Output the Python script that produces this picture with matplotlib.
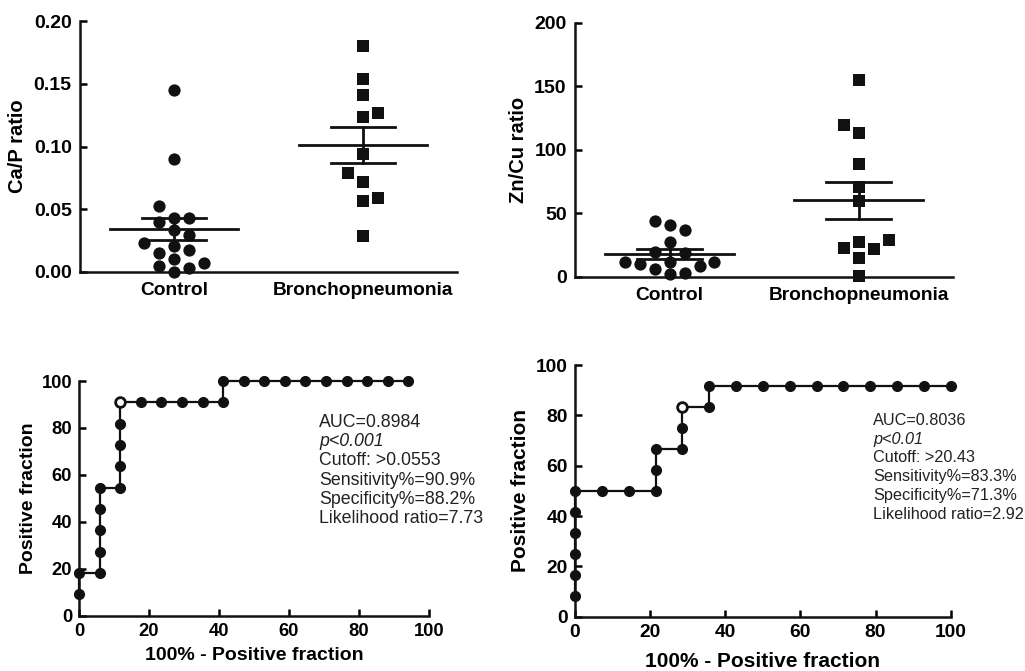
import matplotlib
matplotlib.use("Agg")
import matplotlib.pyplot as plt
import numpy as np

plt.rcParams['font.family'] = ['Liberation Sans', 'DejaVu Sans']

# scatter data
groups = ['Control', 'Bronchopneumonia']
cap_control = [0.145, 0.0899, 0.0527, 0.0434, 0.0434, 0.040, 0.0338, 0.0293, 0.0234,
               0.0205, 0.0173, 0.0152, 0.0106, 0.0074, 0.0048, 0.0035, 0.0]
cap_broncho = [0.180, 0.1535, 0.141, 0.1269, 0.1237, 0.0939, 0.0785, 0.0718, 0.059,
               0.0564, 0.0287]
zncu_control = [44.3, 40.9, 37.0, 27.8, 19.9, 18.9, 12.0, 12.0, 12.0, 10.2, 8.9, 6.3,
                3.1, 2.4]
zncu_broncho = [155.3, 119.7, 113.2, 88.7, 71.0, 59.5, 29.0, 27.8, 22.6, 21.8, 14.7, 0.5]

# ROC curves (percent)
roc1_fpr = [0, 0, 5.88, 5.88, 5.88, 5.88, 5.88, 11.76, 11.76, 11.76, 11.76, 11.76,
            17.65, 23.53, 29.41, 35.29, 41.18, 41.18, 47.06, 52.94, 58.82, 64.71,
            70.59, 76.47, 82.35, 88.24, 94.12]
roc1_tpr = [9.09, 18.18, 18.18, 27.27, 36.36, 45.45, 54.55, 54.55, 63.64, 72.73, 81.82,
            90.91, 90.91, 90.91, 90.91, 90.91, 90.91, 100, 100, 100, 100, 100, 100,
            100, 100, 100, 100]
roc1_cut = (11.76, 90.91)
roc2_fpr = [0, 0, 0, 0, 0, 0, 7.14, 14.29, 21.43, 21.43, 21.43, 28.57, 28.57, 28.57,
            35.71, 35.71, 42.86, 50, 57.14, 64.29, 71.43, 78.57, 85.71, 92.86, 100]
roc2_tpr = [8.33, 16.67, 25, 33.33, 41.67, 50, 50, 50, 50, 58.33, 66.67, 66.67, 75,
            83.33, 83.33, 91.67, 91.67, 91.67, 91.67, 91.67, 91.67, 91.67, 91.67,
            91.67, 91.67]
roc2_cut = (28.57, 83.33)

roc1_text = ['AUC=0.8984', 'p<0.001', 'Cutoff: >0.0553', 'Sensitivity%=90.9%',
             'Specificity%=88.2%', 'Likelihood ratio=7.73']
roc2_text = ['AUC=0.8036', 'p<0.01', 'Cutoff: >20.43', 'Sensitivity%=83.3%',
             'Specificity%=71.3%', 'Likelihood ratio=2.92']

W, H = 1025, 671
fig = plt.figure(figsize=(W / 100, H / 100), dpi=100)


def axes_px(left, right, top, bottom):
    return fig.add_axes([left / W, 1 - bottom / H, (right - left) / W, (bottom - top) / H])


def style(ax):
    for s in ['top', 'right']:
        ax.spines[s].set_visible(False)
    for s in ['left', 'bottom']:
        ax.spines[s].set_linewidth(1.8)
        ax.spines[s].set_color('#111111')


def swarm(ax, xc, vals, thr=12, step=15):
    # simple beeswarm in pixel space
    ypx = [ax.transData.transform((0, v))[1] for v in vals]
    order = np.argsort(ypx)
    placed = []
    slots = [0] * len(vals)
    pref = 1
    for i in order:
        cands = [0]
        for k in range(1, 8):
            cands += [pref * k, -pref * k]
        for c in cands:
            if all(not (s == c and abs(ypx[i] - y) < thr) for s, y in placed):
                break
        placed.append((c, ypx[i]))
        slots[i] = c
        if c != 0:
            pref = -pref
    x0 = ax.transData.transform((xc, 0))[0]
    xs = [ax.transData.inverted().transform((x0 + s * step, 0))[0] for s in slots]
    return xs


def dot_panel(ax, ctrl, bron, ymax, yticks, ticklabels, ylabel):
    style(ax)
    ax.set_xlim(0.5, 2.5)
    ax.set_ylim(0, ymax)
    for xc, vals, mk, ms in [(1, ctrl, 'o', 78), (2, bron, 's', 64)]:
        xs = swarm(ax, xc, vals)
        ax.scatter(xs, vals, marker=mk, s=ms, color='#111111', zorder=3, clip_on=False,
                   linewidths=0)
        m = np.mean(vals)
        sem = np.std(vals, ddof=1) / np.sqrt(len(vals))
        ax.plot([xc - 0.34, xc + 0.34], [m, m], color='#111111', lw=2, zorder=4)
        for yy in (m - sem, m + sem):
            ax.plot([xc - 0.17, xc + 0.17], [yy, yy], color='#111111', lw=2, zorder=4)
        ax.plot([xc, xc], [m - sem, m + sem], color='#111111', lw=2, zorder=4)
    ax.set_xticks([1, 2])
    ax.set_xticklabels(groups, fontsize=13.8, fontweight='bold')
    ax.tick_params(axis='x', length=0, pad=7)
    ax.set_yticks(yticks)
    ax.set_yticklabels(ticklabels, fontsize=14, fontweight='bold')
    ax.tick_params(axis='y', direction='in', length=5, width=1.8, pad=6)
    ax.set_ylabel(ylabel, fontsize=14.5, fontweight='bold')


ax1 = axes_px(80, 457, 21, 272)
dot_panel(ax1, cap_control, cap_broncho, 0.20, [0, 0.05, 0.10, 0.15, 0.20],
          ['0.00', '0.05', '0.10', '0.15', '0.20'], 'Ca/P ratio')
ax1.yaxis.set_label_coords(-0.14, 0.5)

ax2 = axes_px(575, 953, 23, 277)
dot_panel(ax2, zncu_control, zncu_broncho, 200, [0, 50, 100, 150, 200],
          ['0', '50', '100', '150', '200'], 'Zn/Cu ratio')
ax2.yaxis.set_label_coords(-0.125, 0.5)


def roc_panel(ax, fpr, tpr, cut, lines, tsize, lsize, fs, text_xy, lstep):
    style(ax)
    ax.set_xlim(0, 100)
    ax.set_ylim(0, 100)
    ax.plot(fpr, tpr, '-o', color='#111111', lw=1.6, ms=7, clip_on=False, zorder=3)
    ax.plot([cut[0]], [cut[1]], 'o', ms=7, mfc='white', mec='#111111', mew=2,
            clip_on=False, zorder=4)
    ticks = [0, 20, 40, 60, 80, 100]
    ax.set_xticks(ticks)
    ax.set_yticks(ticks)
    ax.set_xticklabels([str(t) for t in ticks], fontsize=tsize, fontweight='bold')
    ax.set_yticklabels([str(t) for t in ticks], fontsize=tsize, fontweight='bold')
    ax.tick_params(direction='in', length=5, width=1.8, pad=5)
    ax.set_ylabel('Positive fraction', fontsize=lsize, fontweight='bold')
    ax.set_xlabel('100% - Positive fraction', fontsize=lsize, fontweight='bold')
    for i, t in enumerate(lines):
        ax.annotate(t, xy=text_xy, xycoords='data', xytext=(0, -i * lstep),
                    textcoords='offset points', fontsize=fs, color='#222222',
                    style='italic' if i == 1 else 'normal', va='baseline',
                    annotation_clip=False)


ax3 = axes_px(79, 429, 381, 615.7)
roc_panel(ax3, roc1_fpr, roc1_tpr, roc1_cut, roc1_text, 13.2, 14, 12.8, (68.6, 80.4), 13.8)
ax3.yaxis.set_label_coords(-0.12, 0.5)
ax3.xaxis.set_label_coords(0.5, -0.133)
ax3.xaxis.label.set_va('top')

ax4 = axes_px(575, 950.7, 365, 616.7)
roc_panel(ax4, roc2_fpr, roc2_tpr, roc2_cut, roc2_text, 13.8, 15, 11.7, (79.3, 76.2), 13.5)
ax4.yaxis.set_label_coords(-0.12, 0.5)
ax4.xaxis.set_label_coords(0.5, -0.14)
ax4.xaxis.label.set_va('top')

fig.savefig('out.png', dpi=100)
